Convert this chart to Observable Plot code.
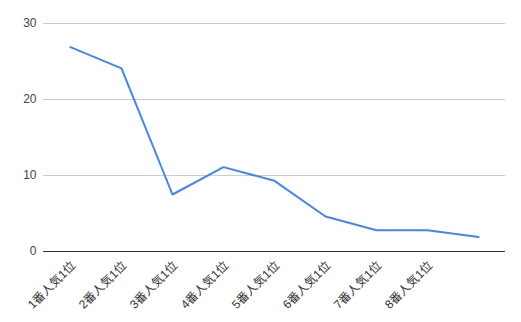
<!DOCTYPE html>
<html><head><meta charset="utf-8">
<script src="https://cdn.jsdelivr.net/npm/d3@7"></script>
<script src="https://cdn.jsdelivr.net/npm/@observablehq/plot@0.6"></script>
<style>
body{margin:0;background:#fff;}
#chart svg{font-family:"Liberation Sans",Arial,"Noto Sans CJK JP",sans-serif;}
</style></head>
<body><div id="chart"></div>
<script>
const categories = ["1番人気1位","2番人気1位","3番人気1位","4番人気1位","5番人気1位","6番人気1位","7番人気1位","8番人気1位","9番人気1位"];
const values = [26.9, 24.1, 7.5, 11.1, 9.3, 4.6, 2.8, 2.8, 1.9];
const tickLabels = ["1番人気1位","2番人気1位","3番人気1位","4番人気1位","5番人気1位","6番人気1位","7番人気1位","8番人気1位"];
const yTicks = [0, 10, 20, 30];

const data = categories.map((c, i) => ({cat: c, v: values[i]}));

const chart = Plot.plot({
  width: 521,
  height: 322,
  marginLeft: 43,
  marginRight: 16,
  marginTop: 23,
  marginBottom: 71,
  style: {fontSize: "12px", color: "#444", background: "#fff"},
  x: {type: "point", domain: categories, padding: 0.5, label: null},
  y: {domain: [0, 30], label: null},
  marks: [
    Plot.ruleY(yTicks.filter(d => d > 0), {stroke: "#cccccc", strokeWidth: 1}),
    Plot.axisY({ticks: yTicks, tickSize: 0, tickPadding: 7, fontSize: 12, label: null, fill: "#444"}),
    Plot.axisX({ticks: tickLabels, tickSize: 0, tickRotate: -45, tickPadding: 4, dx: 3, dy: 8, fontSize: 12, label: null, fill: "#333"}),
    Plot.line(data, {x: "cat", y: "v", stroke: "#4285F4", strokeWidth: 2}),
    Plot.ruleY([0], {stroke: "#333", strokeWidth: 1})
  ]
});
document.getElementById("chart").appendChild(chart);
</script></body></html>
